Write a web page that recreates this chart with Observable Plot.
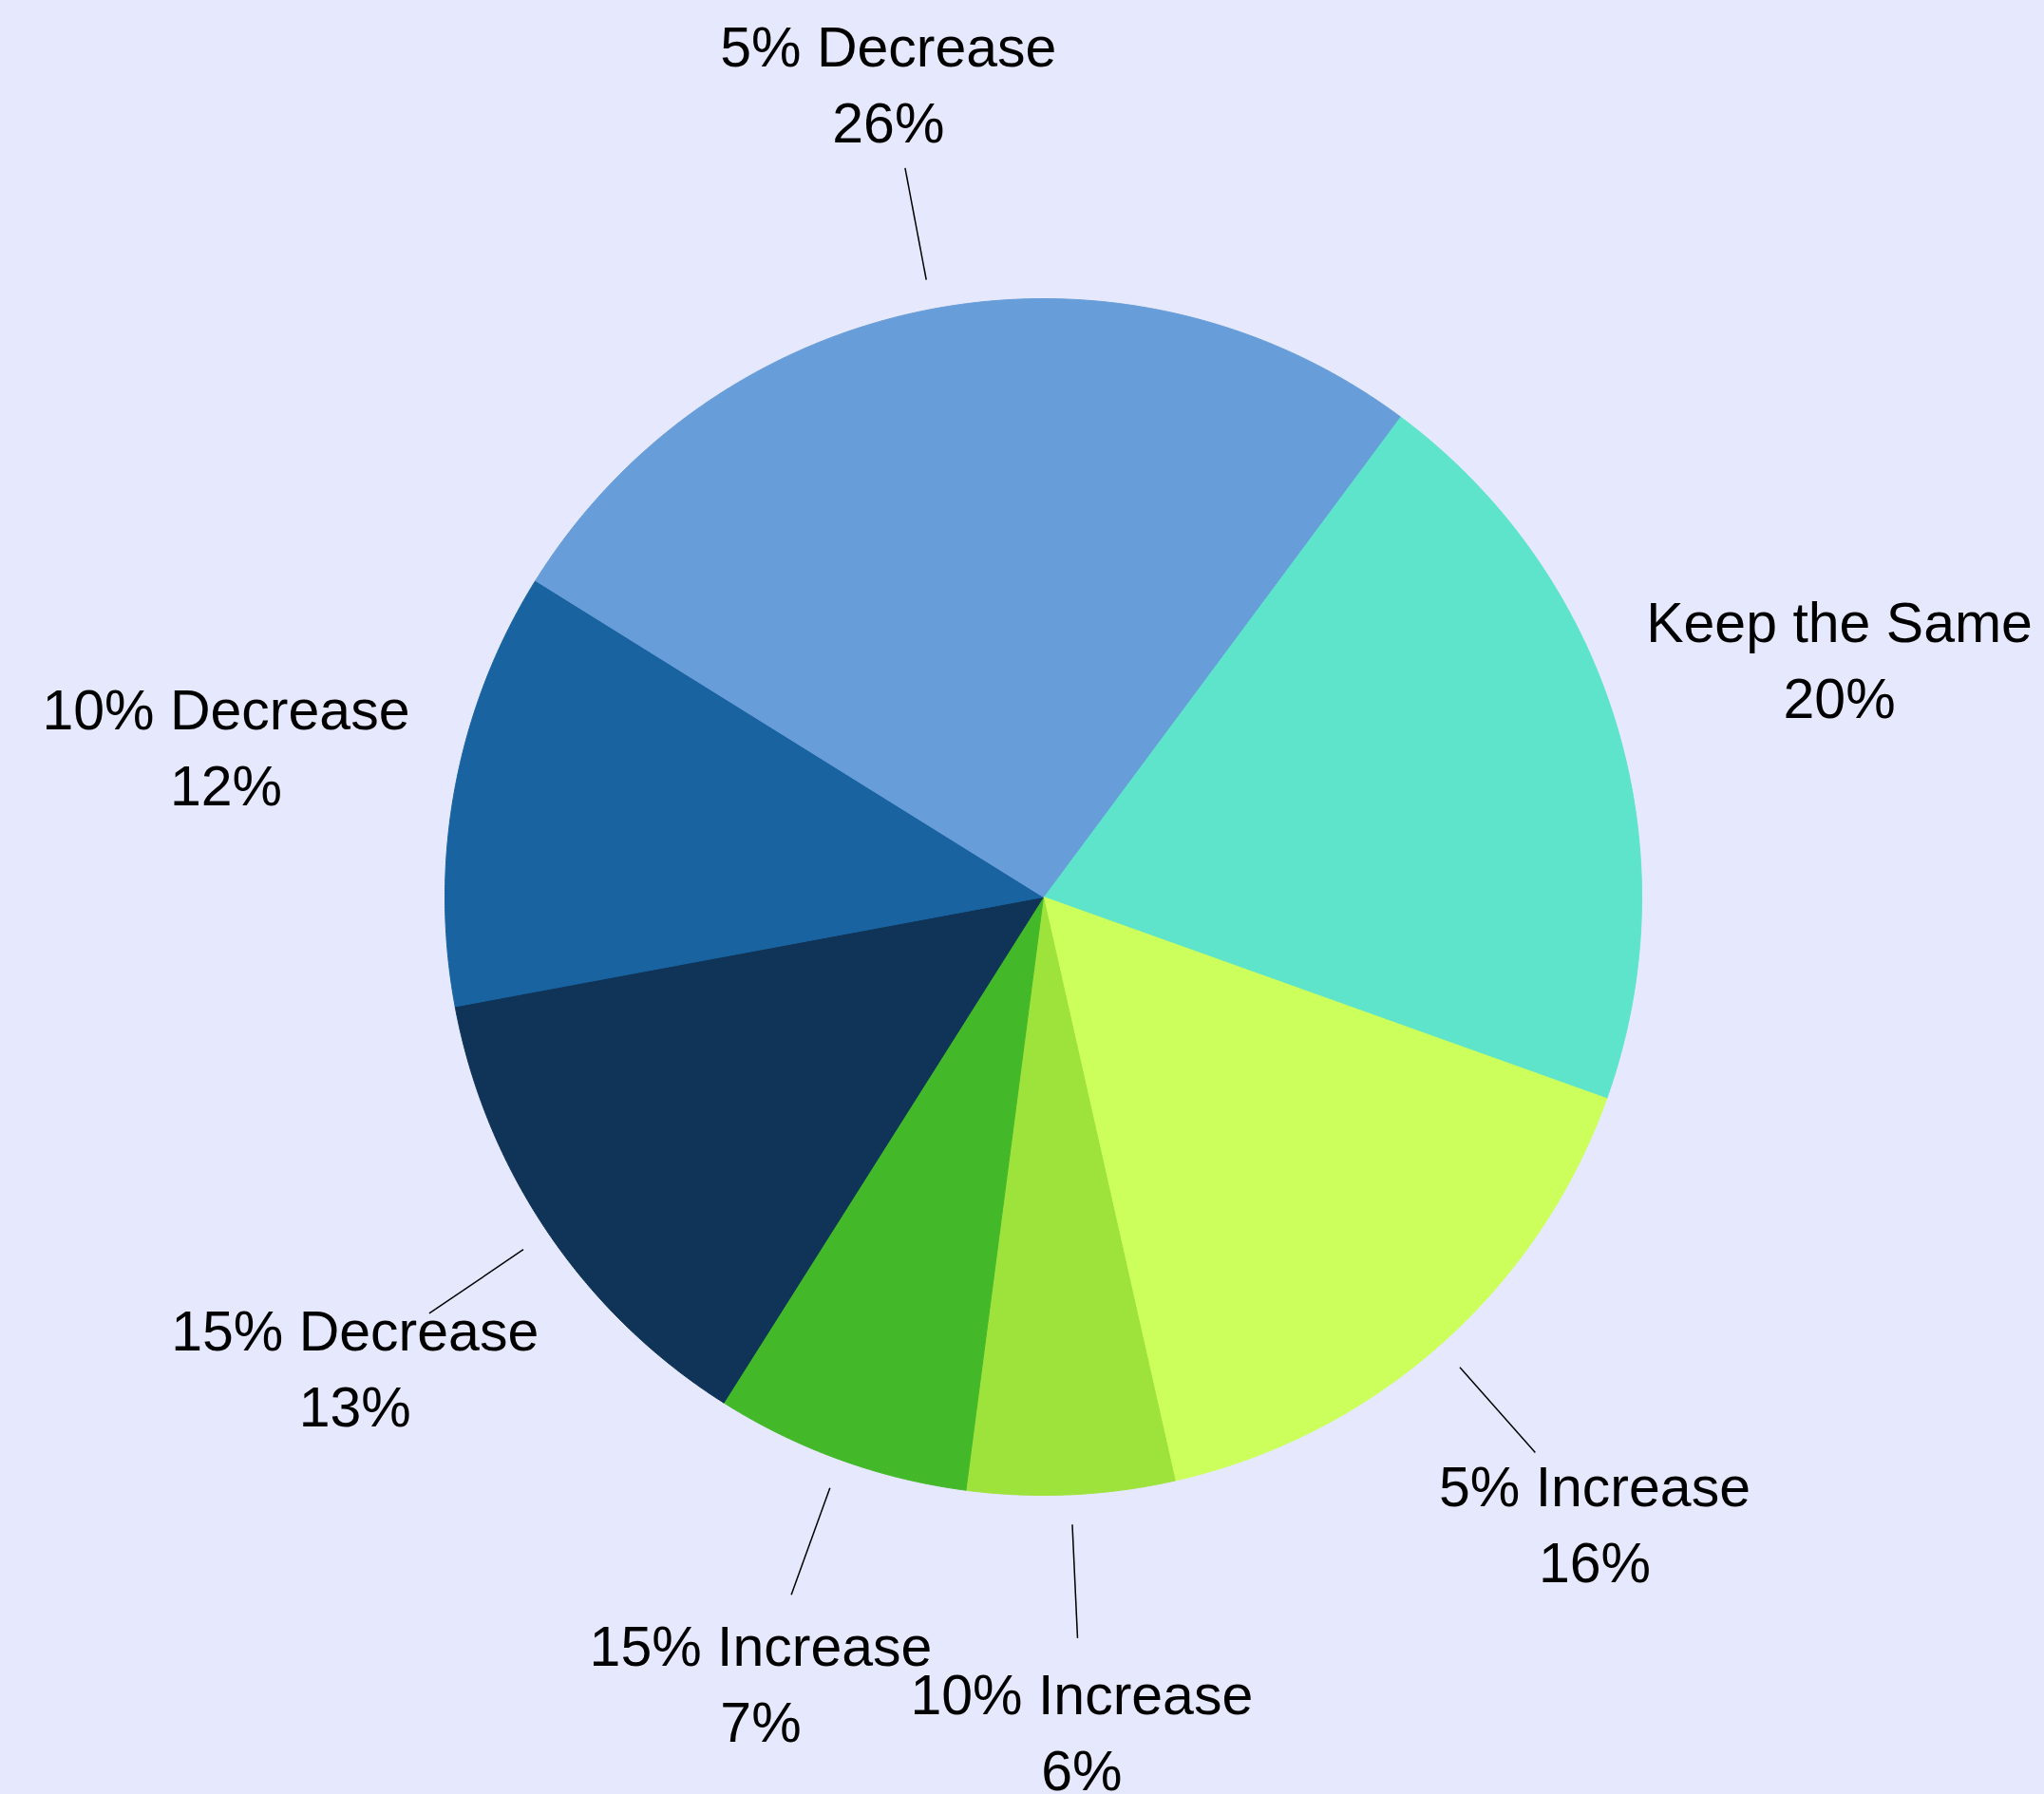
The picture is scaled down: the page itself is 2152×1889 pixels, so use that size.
<!DOCTYPE html>
<html>
<head>
<meta charset="utf-8">
<script src="https://cdn.jsdelivr.net/npm/d3@7"></script>
<script src="https://cdn.jsdelivr.net/npm/@observablehq/plot@0.6"></script>
<style>
  html, body { margin: 0; padding: 0; background: #e6e9fd; }
  #chart { width: 2152px; height: 1889px; }
</style>
</head>
<body>
<div id="chart"></div>
<script>
// Data (clockwise order, starting from the top-right slice); shares
const categories = ["Keep the Same", "5% Increase", "10% Increase", "15% Increase", "15% Decrease", "10% Decrease", "5% Decrease"];
const shares = [20.3, 16.0, 5.6, 6.9, 13.1, 11.8, 26.3];
const colors = ["#5ee4ca", "#ccff5c", "#9ee23c", "#43b929", "#0f3457", "#1863a0", "#679dd9"];
const hasLeader = [false, true, true, true, true, false, true];

// Layout
const W = 2152, H = 1889;
const cx = 1098, cy = 944, R = 630;
const startDeg = 36.6;
const FONT = 59;

const total = d3.sum(shares);
let acc = startDeg;
const slices = categories.map((c, i) => {
  const a0 = acc;
  const a1 = acc + shares[i] / total * 360;
  acc = a1;
  return {label: c, value: shares[i] / total * 100, a0, a1, mid: (a0 + a1) / 2, leader: hasLeader[i]};
});

const rad = d => d * Math.PI / 180;
const pt = (deg, r) => ({x: r * Math.sin(rad(deg)), y: r * Math.cos(rad(deg))});

const polyPoints = [];
for (const s of slices) {
  polyPoints.push({label: s.label, x: 0, y: 0});
  const n = Math.ceil((s.a1 - s.a0) / 0.25);
  for (let k = 0; k <= n; k++) {
    const a = s.a0 + (s.a1 - s.a0) * k / n;
    const p = pt(a, 1);
    polyPoints.push({label: s.label, x: p.x, y: p.y});
  }
  polyPoints.push({label: s.label, x: 0, y: 0});
}

const labelPos = slices.map(s => {
  const p = pt(s.mid, 1.39);
  return {...s, x: p.x, y: p.y, text: `${s.label}\n${Math.round(s.value)}%`};
});

const leaders = slices.filter(s => s.leader).map(s => {
  const p1 = pt(s.mid, 1.05), p2 = pt(s.mid, 1.24);
  return {x1: p1.x, y1: p1.y, x2: p2.x, y2: p2.y};
});

const chart = Plot.plot({
  width: W,
  height: H,
  margin: 0,
  style: {background: "#e6e9fd", fontFamily: "'Liberation Sans', Arial, sans-serif"},
  x: {domain: [-cx / R, (W - cx) / R], axis: null},
  y: {domain: [-(H - cy) / R, cy / R], axis: null},
  color: {domain: categories, range: colors, type: "ordinal"},
  marks: [
    Plot.line(polyPoints, {x: "x", y: "y", z: "label", fill: "label", stroke: "label", strokeWidth: 1, curve: "linear"}),
    Plot.link(leaders, {x1: "x1", y1: "y1", x2: "x2", y2: "y2", stroke: "black", strokeWidth: 1.5}),
    Plot.text(labelPos, {
      x: "x", y: "y", text: "text",
      fontSize: FONT, lineHeight: 1.36,
      textAnchor: "middle", lineAnchor: "middle",
      fill: "black",
      fontFamily: "'Liberation Sans', Arial, sans-serif"
    })
  ]
});

document.getElementById("chart").appendChild(chart);
</script>
</body>
</html>
